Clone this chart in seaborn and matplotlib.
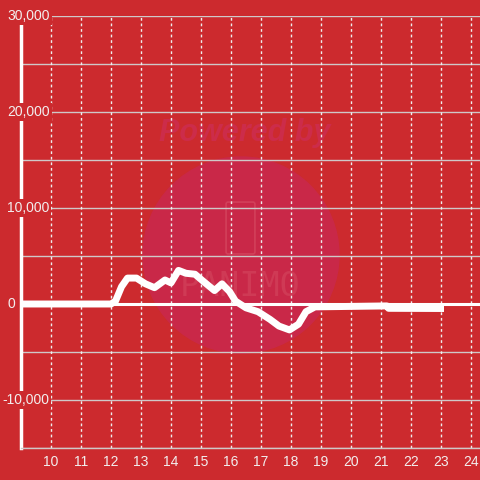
import matplotlib
matplotlib.use("Agg")
import matplotlib.pyplot as plt
from matplotlib.patches import Circle, FancyBboxPatch
import seaborn as sns
import pandas as pd

# values
hours = [9.0, 12.0, 12.15, 12.35, 12.55, 12.85, 13.15, 13.45, 13.8, 14.0,
         14.25, 14.5, 14.8, 15.1, 15.45, 15.7, 15.95, 16.15, 16.5, 16.9,
         17.3, 17.6, 17.95, 18.25, 18.5, 18.8, 21.2, 21.25, 23.1]
values = [0, 0, 300, 1800, 2700, 2700, 2100, 1700, 2500, 2200,
          3500, 3200, 3100, 2300, 1400, 2100, 1300, 300, -400, -800,
          -1600, -2300, -2700, -2100, -800, -300, -200, -450, -470]
x_ticks = list(range(10, 25))
y_ticks = [30000, 20000, 10000, 0, -10000]
y_grid = list(range(-15000, 30001, 5000))

bg = "#cc2a2e"
txt = "#f2eeee"

sns.set_style("white", {"axes.facecolor": bg, "figure.facecolor": bg})
plt.rcParams["font.family"] = ["Liberation Sans", "DejaVu Sans"]

fig = plt.figure(figsize=(4.8, 4.8), dpi=100)
ax = fig.add_axes([21 / 480, 32 / 480, 459 / 480, 432 / 480])
ax.set_zorder(2)
ax.set_facecolor("none")

# watermark
fig.patches.append(Circle((241 / 480, 1 - 255 / 480), 98 / 480,
                          transform=fig.transFigure, color="#c92848",
                          zorder=-2))
fig.patches.append(FancyBboxPatch((228 / 480, 1 - 252 / 480), 25 / 480,
                                  48 / 480, boxstyle="round,pad=0.004",
                                  transform=fig.transFigure, fill=False,
                                  ec="#d2405a", lw=1.2, zorder=-1))
fig.text(245 / 480, 1 - 133 / 480, "Powered by", ha="center", va="center",
         fontsize=22, fontweight="bold", style="italic", color="#cc2c4a",
         zorder=-1)
fig.text(240 / 480, 1 - 287 / 480, "PANIMO", ha="center", va="center",
         fontsize=24, color="#cf3a55", family="DejaVu Sans Mono", zorder=-1)

df = pd.DataFrame({"hour": hours, "value": values})

ax.set_xlim(9, 9 + 459 / 30)
ax.set_ylim(-15000, 30000)

for y in y_grid:
    ax.axhline(y, color="#cfc8c8", lw=1, zorder=1)
for x in x_ticks:
    ax.axvline(x, color="#eee", lw=1, ls=(0, (2, 2)), zorder=1)
ax.axhline(0, color="white", lw=2.2, zorder=2)

sns.lineplot(data=df, x="hour", y="value", ax=ax, color="white", lw=5,
             zorder=3, solid_joinstyle="round", solid_capstyle="butt",
             clip_on=False)

for s in ["top", "right"]:
    ax.spines[s].set_visible(False)
ax.spines["left"].set_color("white")
ax.spines["left"].set_linewidth(2.5)
ax.spines["bottom"].set_color("#cfc8c8")
ax.spines["bottom"].set_linewidth(1)

ax.set_xticks(x_ticks)
ax.set_xticklabels([str(h) for h in x_ticks])
ax.tick_params(axis="x", length=0, pad=5, labelsize=10, labelcolor=txt)
ax.set_yticks([])
ax.set_xlabel("")
ax.set_ylabel("")

for v in y_ticks:
    lab = f"{v:,}"
    off = -19 if v < 0 else -14
    ax.annotate(lab, (0, v), xycoords=("axes fraction", "data"),
                xytext=(off, 0), textcoords="offset pixels", ha="left",
                va="center", fontsize=10, color=txt, zorder=5,
                bbox=dict(boxstyle="square,pad=0.15", fc=bg, ec="none"),
                annotation_clip=False)

fig.savefig("out.png", dpi=100, facecolor=bg)
